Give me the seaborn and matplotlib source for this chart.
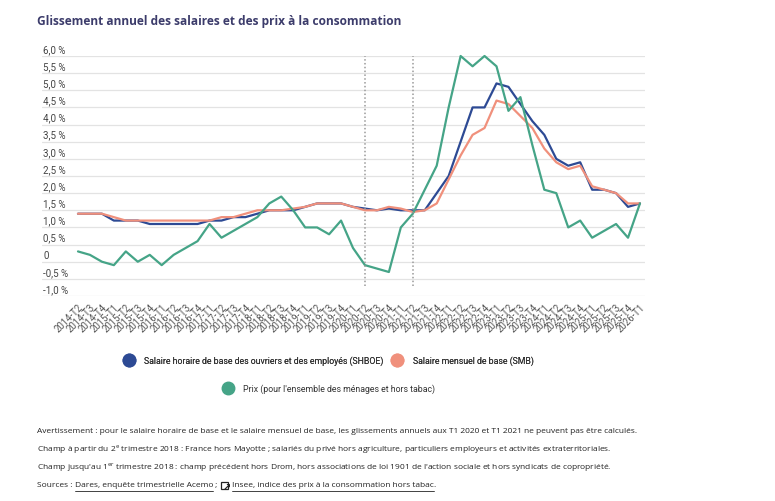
import matplotlib
matplotlib.use("Agg")
import matplotlib.pyplot as plt
import matplotlib.transforms as mtransforms
from matplotlib.lines import Line2D
from matplotlib.patches import Rectangle
import seaborn as sns
import pandas as pd

# quarters 2014-T2 .. 2026-T1
quarters = ["2014-T2", "2014-T3", "2014-T4"] + \
    [f"{y}-T{q}" for y in range(2015, 2026) for q in range(1, 5)] + ["2026-T1"]

shboe = [1.4, 1.4, 1.4, 1.2, 1.2, 1.2, 1.1, 1.1, 1.1, 1.1, 1.1, 1.2,
         1.2, 1.3, 1.3, 1.4, 1.5, 1.5, 1.5, 1.6, 1.7, 1.7, 1.7, 1.6,
         1.55, 1.5, 1.55, 1.5, 1.5, 1.5, 2.0, 2.5, 3.5, 4.5, 4.5, 5.2,
         5.1, 4.6, 4.1, 3.7, 3.0, 2.8, 2.9, 2.1, 2.1, 2.0, 1.6, 1.7]
smb = [1.4, 1.4, 1.4, 1.3, 1.2, 1.2, 1.2, 1.2, 1.2, 1.2, 1.2, 1.2,
       1.3, 1.3, 1.4, 1.5, 1.5, 1.5, 1.55, 1.6, 1.7, 1.7, 1.7, 1.6,
       1.5, 1.5, 1.6, 1.55, 1.45, 1.5, 1.7, 2.4, 3.1, 3.7, 3.9, 4.7,
       4.6, 4.25, 3.9, 3.3, 2.9, 2.7, 2.8, 2.2, 2.1, 2.0, 1.7, 1.7]
prix = [0.3, 0.2, 0.0, -0.1, 0.3, 0.0, 0.2, -0.1, 0.2, 0.4, 0.6, 1.1,
        0.7, 0.9, 1.1, 1.3, 1.7, 1.9, 1.5, 1.0, 1.0, 0.8, 1.2, 0.4,
        -0.1, -0.2, -0.3, 1.0, 1.4, 2.1, 2.8, 4.5, 6.0, 5.7, 6.0, 5.7,
        4.4, 4.8, 3.4, 2.1, 2.0, 1.0, 1.2, 0.7, 0.9, 1.1, 0.7, 1.7]

series_names = ["Salaire horaire de base des ouvriers et des employés (SHBOE)",
                "Salaire mensuel de base (SMB)",
                "Prix (pour l'ensemble des ménages et hors tabac)"]
colors = ["#2d4a94", "#f0907c", "#45a487"]
y_ticks = [-1.0, -0.5, 0, 0.5, 1.0, 1.5, 2.0, 2.5, 3.0, 3.5, 4.0, 4.5, 5.0, 5.5, 6.0]
break_quarters = ["2020-T2", "2021-T2"]

notes = [
    "Avertissement : pour le salaire horaire de base et le salaire mensuel de base, "
    "les glissements annuels aux T1 2020 et T1 2021 ne peuvent pas être calculés.",
    "Champ à partir du 2$^{\\rm e}$ trimestre 2018 : France hors Mayotte ; salariés du privé "
    "hors agriculture, particuliers employeurs et activités extraterritoriales.",
    "Champ jusqu'au 1$^{\\rm er}$ trimestre 2018 : champ précédent hors Drom, hors associations "
    "de loi 1901 de l'action sociale et hors syndicats de copropriété.",
]

df = pd.DataFrame({
    "idx": list(range(len(quarters))) * 3,
    "val": shboe + smb + prix,
    "serie": sum([[n] * len(quarters) for n in series_names], []),
})

sns.set_theme(style="white")
plt.rcParams["font.family"] = ["Roboto", "DejaVu Sans"]
plt.rcParams["mathtext.fontset"] = "custom"
plt.rcParams["mathtext.rm"] = "Open Sans"

W, H = 775, 502
fig = plt.figure(figsize=(W / 100, H / 100), dpi=100)
ax = fig.add_axes([42 / W, 1 - 297 / H, (645 - 42) / W, 240 / H])

for v in y_ticks:
    ax.axhline(v, color="#e3e3e3", lw=0.9, zorder=0)

sns.lineplot(data=df, x="idx", y="val", hue="serie", palette=dict(zip(series_names, colors)),
             hue_order=series_names, lw=1.6, legend=False, ax=ax, clip_on=False)

for q in break_quarters:
    ax.vlines(quarters.index(q), -0.72, 6.0, colors="#9a9a9a", linestyles=(0, (1, 1.5)), lw=1.1)

ax.set_xlim(-3.01, 47.42)
ax.set_ylim(-1.0, 6.0)
ax.set_xticks(range(len(quarters)))
ax.set_xticklabels(quarters, rotation=45, ha="right", rotation_mode="anchor",
                   fontsize=6.9, color="#555555")
ax.tick_params(axis="x", length=0, pad=4)
ax.set_yticks([])
ax.set_xlabel(""); ax.set_ylabel("")
sns.despine(ax=ax, left=True, bottom=True)

trans = mtransforms.blended_transform_factory(ax.transAxes, ax.transData)
for v in y_ticks:
    lab = "0" if v == 0 else f"{v:.1f} %".replace(".", ",")
    ax.text(0.002, v + 0.06, lab, transform=trans, fontsize=7, color="#444444",
            ha="left", va="bottom")

fig.text(37 / W, 1 - 22 / H, "Glissement annuel des salaires et des prix à la consommation",
         fontsize=8.6, fontweight="bold", color="#3c3c6b", family=["Open Sans"], va="center")

h = [Line2D([], [], ls="", marker="o", ms=9, color=c) for c in colors]
leg_kw = dict(frameon=False, fontsize=6.3, handletextpad=1.0, handlelength=1.5,
              labelcolor="#333333")
leg1 = fig.legend(h[:2], series_names[:2], loc="center", bbox_to_anchor=(328 / W, 1 - 361 / H),
                  ncol=2, columnspacing=0.8, **leg_kw)
fig.legend(h[2:], series_names[2:], loc="center", bbox_to_anchor=(328 / W, 1 - 389 / H), **leg_kw)
fig.add_artist(leg1)

note_y = [432, 450, 468]
for y, s in zip(note_y, notes):
    fig.text(37 / W, 1 - y / H, s, fontsize=6.05, color="#222222", family=["Open Sans"], va="center")

# sources line with underlined links
renderer = fig.canvas.get_renderer()
x = 37
y = 1 - 486 / H
pieces = [("Sources : ", False), ("Dares, enquête trimestrielle Acemo", True), (" ; ", False),
          ("ICON", False), (" ", False), ("Insee, indice des prix à la consommation hors tabac", True),
          (".", False)]
for s, under in pieces:
    if s == "ICON":
        fig.add_artist(Rectangle(((x + 1) / W, y - 4 / H), 7 / W, 7 / H, transform=fig.transFigure,
                                 fill=False, lw=0.9, ec="#222222"))
        fig.text((x + 3) / W, y - 1 / H, "↗", fontsize=7, color="#222222", family=["DejaVu Sans"],
                 va="center", fontweight="bold")
        x += 10
        continue
    t = fig.text(x / W, y, s, fontsize=6.05, color="#222222", family=["Open Sans"], va="center")
    bb = t.get_window_extent(renderer)
    if under:
        fig.add_artist(Line2D([bb.x0 / W, bb.x1 / W], [y - 6 / H, y - 6 / H],
                              transform=fig.transFigure, color="#222222", lw=0.6))
    x = bb.x1

fig.savefig("out.png", dpi=100)
